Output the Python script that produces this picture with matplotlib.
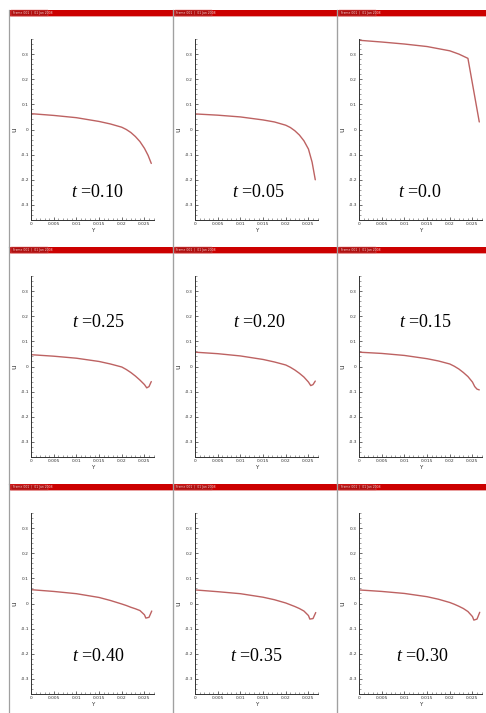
import numpy as np
import matplotlib.pyplot as plt
from matplotlib.ticker import MultipleLocator, FixedLocator
from matplotlib.patches import Rectangle
from matplotlib.lines import Line2D

plt.rcParams['mathtext.fontset'] = 'custom'
plt.rcParams['mathtext.it'] = 'Liberation Serif:italic'
plt.rcParams['mathtext.rm'] = 'Liberation Serif'

W, H = 486, 713

# panel labels, row by row (left to right)
labels = ['0.10', '0.05', '0.0',
          '0.25', '0.20', '0.15',
          '0.40', '0.35', '0.30']

# Y positions and u values
Y_a = [0, 0.005, 0.01, 0.015, 0.0175, 0.02, 0.021, 0.022, 0.023, 0.024, 0.025, 0.0258, 0.0265]
u_010 = [0.063, 0.056, 0.047, 0.032, 0.022, 0.009, 0.0, -0.012, -0.028, -0.048, -0.075, -0.103, -0.135]
u_005 = [0.062, 0.057, 0.05, 0.038, 0.03, 0.017, 0.008, -0.005, -0.022, -0.045, -0.078, -0.13, -0.2]

Y_c = [0, 0.005, 0.01, 0.015, 0.02, 0.022, 0.024, 0.0265]
u_000 = [0.355, 0.348, 0.34, 0.33, 0.313, 0.3, 0.283, 0.03]

Y_d = [0, 0.005, 0.01, 0.015, 0.0175, 0.02, 0.021, 0.022, 0.023, 0.024, 0.025, 0.0255, 0.026, 0.0265]
u_025 = [0.047, 0.041, 0.033, 0.02, 0.01, -0.002, -0.012, -0.024, -0.038, -0.054, -0.072, -0.085, -0.08, -0.06]
u_020 = [0.057, 0.051, 0.042, 0.028, 0.018, 0.006, -0.003, -0.014, -0.027, -0.042, -0.062, -0.076, -0.072, -0.058]
u_015 = [0.057, 0.052, 0.044, 0.031, 0.022, 0.01, 0.001, -0.01, -0.024, -0.04, -0.062, -0.08, -0.09, -0.093]

Y_e = [0, 0.005, 0.01, 0.015, 0.0175, 0.02, 0.021, 0.022, 0.023, 0.024, 0.025, 0.0253, 0.026, 0.0266]
u_040 = [0.055, 0.048, 0.039, 0.024, 0.012, -0.002, -0.008, -0.015, -0.021, -0.028, -0.045, -0.058, -0.055, -0.03]
u_035 = [0.054, 0.047, 0.039, 0.025, 0.015, 0.002, -0.005, -0.012, -0.02, -0.03, -0.048, -0.062, -0.06, -0.036]
u_030 = [0.054, 0.048, 0.04, 0.027, 0.017, 0.004, -0.003, -0.011, -0.02, -0.032, -0.052, -0.066, -0.062, -0.035]

curves = [(Y_a, u_010), (Y_a, u_005), (Y_c, u_000),
          (Y_d, u_025), (Y_d, u_020), (Y_d, u_015),
          (Y_e, u_040), (Y_e, u_035), (Y_e, u_030)]

# label anchor per row (data coords)
label_y = [-0.25, 0.177, -0.21]
label_x = [[0.0145, 0.014, 0.0134], [0.0148, 0.0142, 0.0145], [0.0148, 0.0135, 0.0140]]

col_left = [10, 174, 338]
col_w = [163, 163, 148]
row_top = [10, 247, 484]
row_h = 237

fig = plt.figure(figsize=(W / 100, H / 100), dpi=100)
fig.patch.set_facecolor('white')


def fx(px):
    return px / W


def fy(py):
    return 1 - py / H


for i, (yy, uu) in enumerate(curves):
    r, c = divmod(i, 3)
    x0 = col_left[c]
    y0 = row_top[r]

    # panel borders
    fig.add_artist(Line2D([fx(x0 - 1), fx(x0 - 1)], [fy(y0), fy(y0 + row_h)],
                          color='#a0a0a0', lw=0.9))
    if c < 2:
        fig.add_artist(Line2D([fx(x0 + col_w[c]), fx(x0 + col_w[c])],
                              [fy(y0), fy(y0 + row_h)], color='#b0b0b0', lw=0.8))

    # red frame header
    fig.add_artist(Rectangle((fx(x0), fy(y0 + 6)), fx(col_w[c]), 6 / H,
                             facecolor='#cc0000', edgecolor='none'))
    fig.add_artist(Rectangle((fx(x0), fy(y0 + 6.8)), fx(col_w[c]), 1 / H,
                             facecolor='#e8a0a0', edgecolor='none'))
    fig.add_artist(Rectangle((fx(x0 + 1), fy(y0 + 5.5)), fx(37), 5 / H,
                             facecolor='#b01010', edgecolor='#e06060', lw=0.3))
    fig.text(fx(x0 + 2.5), fy(y0 + 3), 'Frame 001  |  01 Jan 2008', fontsize=2.2,
             color='#f0d0d0', va='center', ha='left')

    ax = fig.add_axes([fx(x0 + 21), fy(y0 + 29 + 181), fx(123), 181 / H])
    ax.plot(yy, uu, color='#bd6262', lw=1.0, solid_capstyle='round',
            solid_joinstyle='round')
    ax.set_xlim(0, 0.0271)
    ax.set_ylim(-0.36, 0.36)
    ax.spines['top'].set_visible(False)
    ax.spines['right'].set_visible(False)
    for s in ('left', 'bottom'):
        ax.spines[s].set_linewidth(0.7)
        ax.spines[s].set_color('#333333')
    ax.xaxis.set_major_locator(FixedLocator([0, 0.005, 0.01, 0.015, 0.02, 0.025]))
    ax.set_xticklabels(['0', '0.005', '0.01', '0.015', '0.02', '0.025'])
    ax.xaxis.set_minor_locator(MultipleLocator(0.001))
    ax.yaxis.set_major_locator(FixedLocator([-0.3, -0.2, -0.1, 0, 0.1, 0.2, 0.3]))
    ax.set_yticklabels(['-0.3', '-0.2', '-0.1', '0', '0.1', '0.2', '0.3'])
    ax.yaxis.set_minor_locator(MultipleLocator(0.02))
    ax.tick_params(which='major', direction='in', length=2.5, width=0.5,
                   labelsize=3.2, pad=1.5, colors='#333333')
    ax.tick_params(which='minor', direction='in', length=1.2, width=0.4, colors='#555555')
    ax.set_xlabel('Y', fontsize=4, labelpad=1.5, color='#333333')
    ax.set_ylabel('u', fontsize=5, labelpad=2, color='#333333')
    ax.text(label_x[r][c], label_y[r], r'$t$ =' + labels[i], fontsize=13,
            family='Liberation Serif', ha='center', va='center')

fig.savefig('out.png', dpi=100, facecolor='white')
